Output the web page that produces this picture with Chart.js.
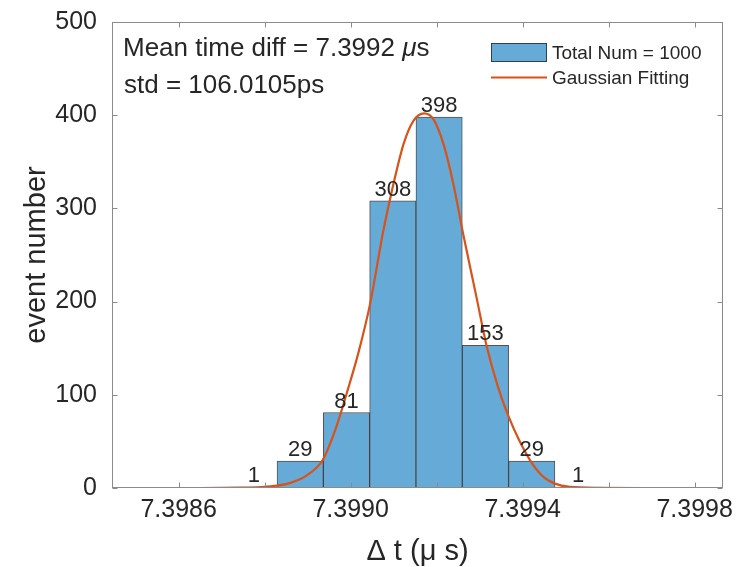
<!DOCTYPE html>
<html>
<head>
<meta charset="utf-8">
<script src="https://cdn.jsdelivr.net/npm/chart.js@4.4.1/dist/chart.umd.min.js"></script>
<style>
  html, body { margin: 0; padding: 0; background: #fff; }
  #wrap { width: 738px; height: 567px; }
</style>
</head>
<body>
<div id="wrap"><canvas id="myChart" width="738" height="567"></canvas></div>
<script>
// histogram bins (centre of each bin, in us) and counts
const BIN_CENTERS = [7.3987750, 7.3988827, 7.3989904, 7.3990981, 7.3992058, 7.3993135, 7.3994212, 7.3995289];
const BIN_COUNTS = [1, 29, 81, 308, 398, 153, 29, 1];

// gaussian fit curve
const FIT_X = [7.398507, 7.398650, 7.398743, 7.398790, 7.398829, 7.398860, 7.398898, 7.398935,
               7.398964, 7.398995, 7.399018, 7.399045, 7.399076, 7.399096, 7.399123, 7.399146,
               7.399171, 7.399192, 7.399216, 7.399239, 7.399262, 7.399293, 7.399316, 7.399343,
               7.399368, 7.399390, 7.399417, 7.399448, 7.399475, 7.399510, 7.399580, 7.399673, 7.399800];
const FIT_Y = [0, 0, 0.4, 1, 2.5, 5.5, 13.6, 30,
               62, 108, 145, 197, 276, 319, 369, 394,
               402, 396, 369, 326, 272, 204, 153, 108,
               76, 53, 30, 12, 4.7, 1.2, 0.2, 0, 0];

const X_TICKS = [7.3986, 7.3988, 7.3990, 7.3992, 7.3994, 7.3996, 7.3998];
const X_TICK_LABELS = ['7.3986', '', '7.3990', '', '7.3994', '', '7.3998'];
const Y_TICKS = [0, 100, 200, 300, 400, 500];
const X_RANGE = [7.398445, 7.399866];
const Y_RANGE = [0, 500];

const NOTE_MEAN = 'Mean time diff = 7.3992 ';
const NOTE_STD = 'std = 106.0105ps';

const FONT = "'Liberation Sans', Arial, Helvetica, sans-serif";
const TEXT = '#262626';
const AXIS = '#8a8a8a';
const BAR_FILL = '#66AAD7';
const BAR_EDGE = 'rgba(38,38,38,0.8)';
const FIT_COLOR = '#D95319';

const overlay = {
    id: 'overlay',
    afterDatasetsDraw(chart) {
        const { ctx, chartArea: a, scales: { x, y } } = chart;
        const L = Math.round(a.left) + 0.5, R = Math.round(a.right) - 0.5;
        const T = Math.round(a.top) + 0.5, B = Math.round(a.bottom) - 0.5;
        ctx.save();

        // box + inward ticks, matlab style
        ctx.strokeStyle = AXIS;
        ctx.lineWidth = 1;
        ctx.strokeRect(L, T, R - L, B - T);
        ctx.beginPath();
        X_TICKS.forEach(v => {
            const px = Math.round(x.getPixelForValue(v)) + 0.5;
            ctx.moveTo(px, B); ctx.lineTo(px, B - 5);
            ctx.moveTo(px, T); ctx.lineTo(px, T + 5);
        });
        Y_TICKS.forEach(v => {
            const py = Math.round(y.getPixelForValue(v)) + 0.5;
            ctx.moveTo(L, py); ctx.lineTo(L + 5, py);
            ctx.moveTo(R, py); ctx.lineTo(R - 5, py);
        });
        ctx.stroke();

        // counts above the bars
        ctx.fillStyle = TEXT;
        ctx.font = `22px ${FONT}`;
        ctx.textAlign = 'center';
        ctx.textBaseline = 'alphabetic';
        chart.getDatasetMeta(0).data.forEach((el, i) => {
            ctx.fillText(String(BIN_COUNTS[i]), el.x, el.y - 5);
        });

        // text notes
        ctx.textAlign = 'left';
        ctx.textBaseline = 'middle';
        ctx.font = `26px ${FONT}`;
        let tx = a.left + 11;
        const ty = a.top + 27;
        ctx.fillText(NOTE_MEAN, tx, ty);
        tx += ctx.measureText(NOTE_MEAN).width;
        ctx.font = `italic 26px ${FONT}`;
        ctx.fillText('\u03bc', tx, ty);
        tx += ctx.measureText('\u03bc').width;
        ctx.font = `26px ${FONT}`;
        ctx.fillText('s', tx, ty);
        ctx.fillText(NOTE_STD, a.left + 12, a.top + 64);

        // legend
        const ds = chart.data.datasets;
        const lx = a.left + 379, ly = a.top + 21;
        ctx.fillStyle = ds[0].backgroundColor;
        ctx.fillRect(lx, ly, 56, 19);
        ctx.strokeStyle = BAR_EDGE;
        ctx.strokeRect(lx + 0.5, ly + 0.5, 55, 18);
        ctx.strokeStyle = ds[1].borderColor;
        ctx.lineWidth = 2;
        ctx.beginPath();
        ctx.moveTo(lx, ly + 34.5); ctx.lineTo(lx + 56, ly + 34.5);
        ctx.stroke();
        ctx.fillStyle = TEXT;
        ctx.font = `19px ${FONT}`;
        ctx.fillText(ds[0].label, lx + 61, ly + 11);
        ctx.fillText(ds[1].label, lx + 61, ly + 36);
        ctx.restore();
    }
};

new Chart(document.getElementById('myChart'), {
    type: 'bar',
    data: {
        datasets: [{
            type: 'bar',
            label: 'Total Num = 1000',
            data: BIN_CENTERS.map((c, i) => ({ x: c, y: BIN_COUNTS[i] })),
            backgroundColor: BAR_FILL,
            borderColor: BAR_EDGE,
            borderWidth: 1,
            barPercentage: 1,
            categoryPercentage: 1,
            order: 2
        }, {
            type: 'line',
            label: 'Gaussian Fitting',
            data: FIT_X.map((v, i) => ({ x: v, y: FIT_Y[i] })),
            borderColor: FIT_COLOR,
            borderWidth: 2.2,
            pointRadius: 0,
            fill: false,
            cubicInterpolationMode: 'monotone',
            order: 1
        }]
    },
    options: {
        responsive: false,
        animation: false,
        layout: { padding: { left: 0, top: 22, right: 15, bottom: 0 } },
        plugins: { legend: { display: false }, tooltip: { enabled: false } },
        scales: {
            x: {
                type: 'linear',
                min: X_RANGE[0], max: X_RANGE[1],
                offset: false,
                grid: { display: false, drawTicks: false },
                border: { display: false },
                afterBuildTicks: s => { s.ticks = X_TICKS.map(v => ({ value: v })); },
                afterFit: s => { s.height = 79; s.paddingLeft = 0; s.paddingRight = 0; },
                ticks: {
                    autoSkip: false, maxRotation: 0, padding: 7,
                    color: TEXT, font: { family: FONT, size: 25 },
                    callback: (v, i) => X_TICK_LABELS[i]
                },
                title: {
                    display: true, text: '\u0394 t (\u03bc s)', color: TEXT,
                    font: { family: FONT, size: 29 }, padding: { top: 0, bottom: -2 }
                }
            },
            y: {
                min: Y_RANGE[0], max: Y_RANGE[1],
                grid: { display: false, drawTicks: false },
                border: { display: false },
                afterBuildTicks: s => { s.ticks = Y_TICKS.map(v => ({ value: v })); },
                afterFit: s => { s.width = 112; s.paddingTop = 0; s.paddingBottom = 0; },
                ticks: { padding: 15, color: TEXT, font: { family: FONT, size: 25 } },
                title: {
                    display: true, text: 'event number', color: TEXT,
                    font: { family: FONT, size: 29 }, padding: { top: 20, bottom: 0 }
                }
            }
        }
    },
    plugins: [overlay]
});
</script>
</body>
</html>
